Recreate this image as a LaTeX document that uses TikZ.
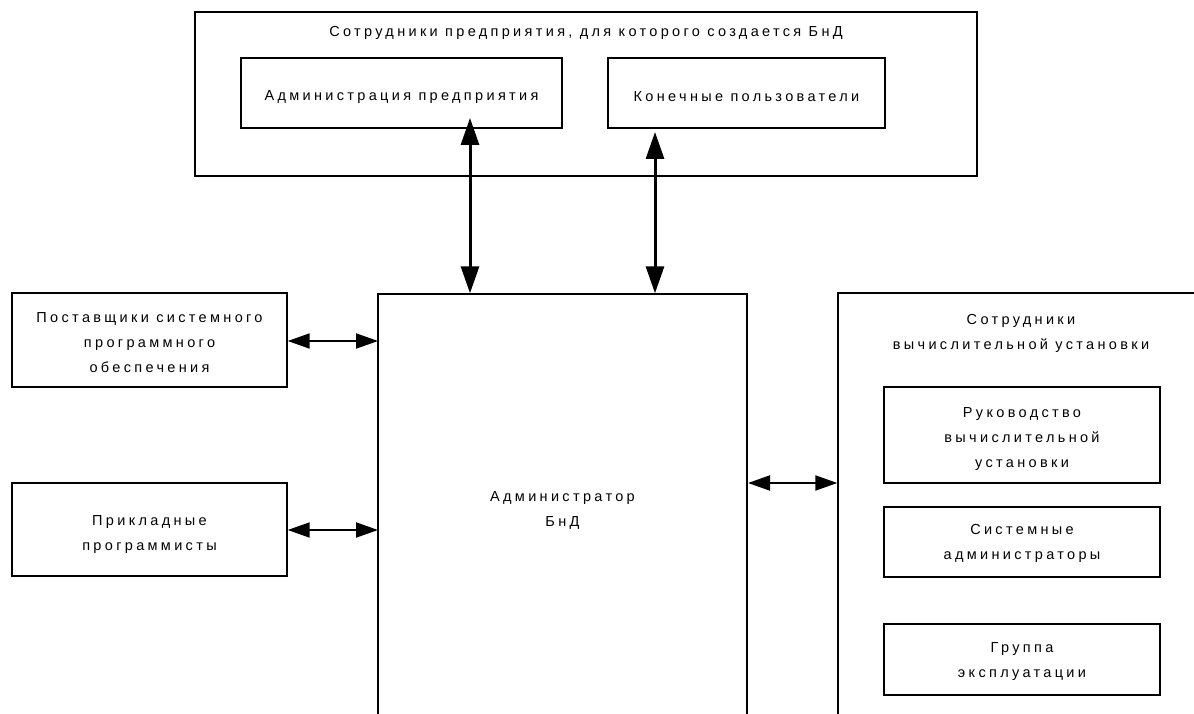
\documentclass[tikz,border=0pt]{standalone}
\usepackage{fontspec}
\setmainfont{Liberation Sans}[LetterSpace=23]
\usetikzlibrary{arrows.meta}

\tikzset{
  txt/.style={font=\fontsize{14.5}{25}\selectfont, align=center, inner sep=0pt},
  box/.style={draw, line width=1.4pt, inner sep=0pt, minimum width=#1},
  intext/.style 2 args={label={[txt,yshift=-#1]center:{#2}}},
  varrow/.style={line width=3pt, {Triangle[length=27pt,width=18pt]}-{Triangle[length=27pt,width=18pt]}},
  harrow/.style={line width=2pt, {Triangle[length=22pt,width=15pt]}-{Triangle[length=22pt,width=15pt]}},
}

\begin{document}
\begin{tikzpicture}[x=1pt,y=-1pt]
\useasboundingbox (0,0) rectangle (1194,714);
\clip (0,0) rectangle (1194,714);

% enterprise staff
\node[box=782pt, minimum height=164pt] (staff) at (586,94) {};
\node[txt] (stafft) at (586,33) {Сотрудники предприятия, для которого создается БнД};
\node[box=321pt, minimum height=70pt, intext={4pt}{Администрация предприятия}] (mgmt) at (401.5,93) {};
\node[box=277pt, minimum height=70pt, intext={4pt}{Конечные пользователи}] (users) at (746.5,93) {};

% database administrator
\node[box=369pt, minimum height=428pt, intext={2pt}{Администратор\\БнД}] (adm) at (562.5,508) {};

% left partners
\node[box=275pt, minimum height=94pt, intext={3pt}{Поставщики системного\\программного\\обеспечения}] (sup) at (149.5,340) {};
\node[box=275pt, minimum height=93pt, intext={5pt}{Прикладные\\программисты}] (app) at (149.5,529.5) {};

% computing centre staff
\node[box=402pt, minimum height=467pt] (ops) at (1039,526.5) {};
\node[txt] (opst) at (1021,333) {Сотрудники\\вычислительной установки};
\node[box=276pt, minimum height=96pt, intext={4pt}{Руководство\\вычислительной\\установки}] (mgr) at (1022,435) {};
\node[box=276pt, minimum height=70pt, intext={1pt}{Системные\\администраторы}] (sys) at (1022,542) {};
\node[box=276pt, minimum height=71pt, intext={2pt}{Группа\\эксплуатации}] (grp) at (1022,659.5) {};

% connectors
\coordinate (m1) at (470,118);
\coordinate (u1) at (655,132);
\draw[varrow] (m1) -- (adm.north -| m1);
\draw[varrow] (u1) -- (adm.north -| u1);

\coordinate (s1) at (378,341);
\coordinate (a1) at (378,530);
\coordinate (o1) at (748,483);
\draw[harrow] (sup.east |- s1) -- (s1);
\draw[harrow] (app.east |- a1) -- (a1);
\draw[harrow] (o1) -- (ops.west |- o1);
\end{tikzpicture}
\end{document}
